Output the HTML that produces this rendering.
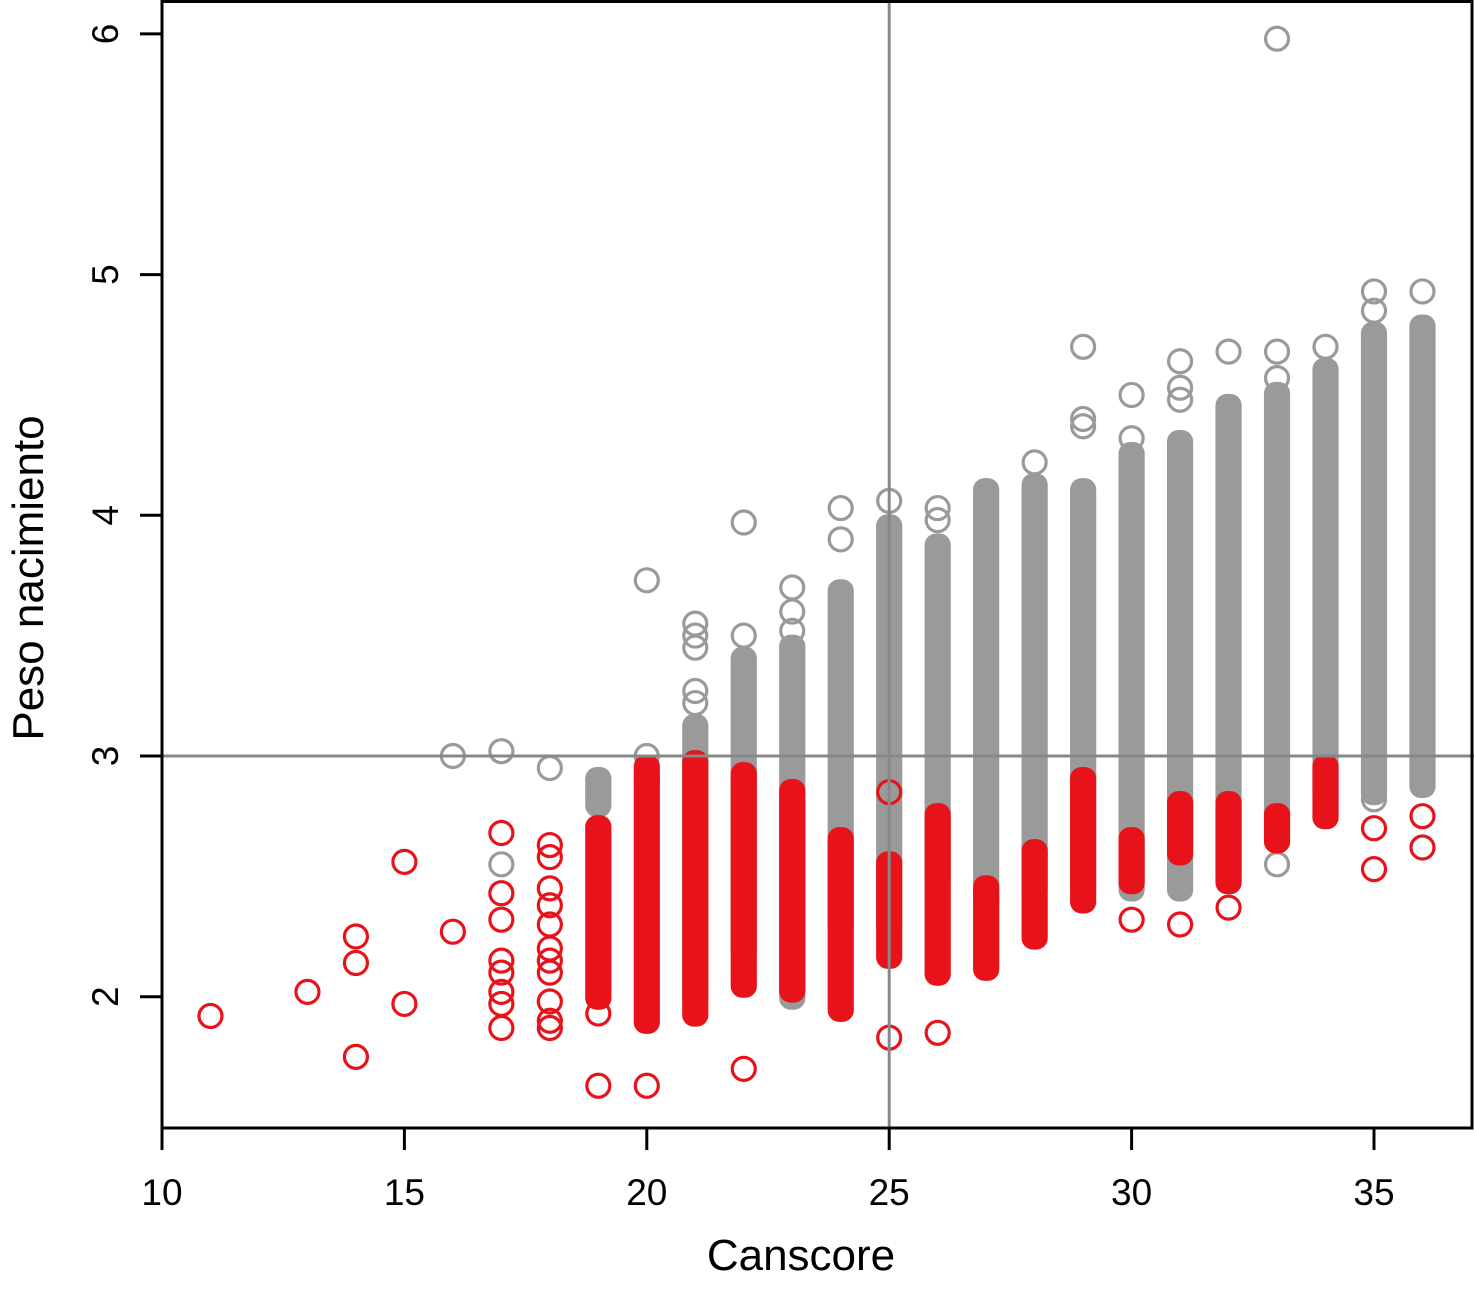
<!DOCTYPE html>
<html><head><meta charset="utf-8"><style>
html,body{margin:0;padding:0;background:#fff}
svg{display:block}
text{font-family:"Liberation Sans",Arial,sans-serif;fill:#000}
</style></head><body>
<svg id="chart" width="1474" height="1294" viewBox="0 0 1474 1294">
<g id="marks"></g>
<g id="axes"></g>
</svg>
<script>
// categories (Canscore columns)
const categories = [11,13,14,15,16,17,18,19,20,21,22,23,24,25,26,27,28,29,30,31,32,33,34,35,36];
// gray dense ranges [lo,hi] per column (null if none)
const grayDense = [null,null,null,null,null,null,null,[2.8,2.9],null,[2.0,3.12],[2.2,3.4],[2.0,3.45],[2.3,3.68],[2.3,3.95],[2.5,3.87],[2.4,4.1],[2.45,4.12],[2.45,4.1],[2.45,4.25],[2.45,4.3],[2.5,4.45],[2.75,4.5],[2.85,4.6],[2.85,4.75],[2.88,4.78]];
// gray individual points
const grayPts = [[],[],[],[],[3.0],[3.02,2.55],[2.95],[2.9,2.85],[3.73,3.0,2.9],[3.55,3.5,3.45,3.27,3.22],[3.97,3.5],[3.7,3.6,3.52],[4.03,3.9],[4.06],[4.03,3.98],[],[4.22],[4.7,4.4,4.37],[4.5,4.32],[4.64,4.53,4.48],[4.68],[5.98,4.68,4.57,2.55],[4.7],[4.93,4.85,2.82],[4.93]];
// red dense ranges
const redDense = [null,null,null,null,null,null,null,[2.0,2.7],[1.9,2.95],[1.93,2.97],[2.05,2.92],[2.03,2.85],[1.95,2.65],[2.17,2.55],[2.1,2.75],[2.12,2.45],[2.25,2.6],[2.4,2.9],[2.48,2.65],[2.6,2.8],[2.48,2.8],[2.65,2.75],[2.75,2.95],null,null];
// red individual points
const redPts = [[1.92],[2.02],[2.25,2.14,1.75],[2.56,1.97],[2.27],[2.68,2.43,2.32,2.15,2.1,2.02,1.97,1.87],[2.63,2.58,2.45,2.38,2.3,2.2,2.15,2.1,1.98,1.9,1.87],[1.63,1.93],[1.63],[],[1.7],[],[],[2.85,1.83],[1.85],[],[],[],[2.32],[2.3],[2.37],[],[],[2.7,2.53],[2.75,2.62]];
const xTicks=[10,15,20,25,30,35];
const yTicks=[2,3,4,5,6];

const NS="http://www.w3.org/2000/svg";
const X0=162,X1=1472,Y0=0,Y1=1128;
const xs=v=>162+(v-10)*48.48;
const ys=v=>756-(v-3)*240.7;
const marks=document.getElementById('marks'), axes=document.getElementById('axes');
function mk(tag,attrs,parent){const e=document.createElementNS(NS,tag);for(const k in attrs)e.setAttribute(k,attrs[k]);parent.appendChild(e);return e;}
const R=11.5, SW=3.2;
function dense(rng,col,x){
  const t=ys(rng[1]),b=ys(rng[0]);
  const e=mk('rect',{x:x-R-SW/2,y:t-R-SW/2,width:2*R+SW,height:b-t+2*R+SW,rx:R,fill:col},marks);
  
  
}
function pt(v,col,x){
  const c=mk('circle',{cx:x,cy:ys(v),r:R,fill:'none',stroke:col,'stroke-width':SW},marks);
  
  
}
const GRAY='#9a9a9a', RED='#e8131a';
categories.forEach((c,i)=>{const x=xs(c);if(grayDense[i])dense(grayDense[i],GRAY,x);grayPts[i].forEach(v=>pt(v,GRAY,x));});
categories.forEach((c,i)=>{const x=xs(c);if(redDense[i])dense(redDense[i],RED,x);redPts[i].forEach(v=>pt(v,RED,x));});
// reference lines
let l=mk('line',{x1:xs(25),x2:xs(25),y1:Y0,y2:Y1,stroke:'#888','stroke-width':3},axes);


l=mk('line',{x1:X0,x2:X1+2,y1:ys(3),y2:ys(3),stroke:'#888','stroke-width':3},axes);


// frame
const fr=mk('rect',{x:X0,y:1.5,width:X1-X0,height:Y1-1.5,fill:'none',stroke:'#000','stroke-width':3},axes);


xTicks.forEach(t=>{const x=xs(t);
  const tk=mk('line',{x1:x,x2:x,y1:Y1,y2:Y1+22,stroke:'#000','stroke-width':3},axes);
  
  
  const tx=mk('text',{x:x,y:1205,'text-anchor':'middle','font-size':37},axes);tx.textContent=t;
  
  
});
yTicks.forEach(t=>{const y=ys(t);
  const tk=mk('line',{x1:X0-22,x2:X0,y1:y,y2:y,stroke:'#000','stroke-width':3},axes);
  
  
  const tx=mk('text',{x:118,y:y,'text-anchor':'middle','font-size':37,transform:`rotate(-90 118 ${y})`},axes);tx.textContent=t;
  
  
});
let tt=mk('text',{x:801,y:1270,'text-anchor':'middle','font-size':44},axes);tt.textContent='Canscore';


tt=mk('text',{x:43,y:578,'text-anchor':'middle','font-size':44,transform:'rotate(-90 43 578)'},axes);tt.textContent='Peso nacimiento';


</script>
</body></html>
